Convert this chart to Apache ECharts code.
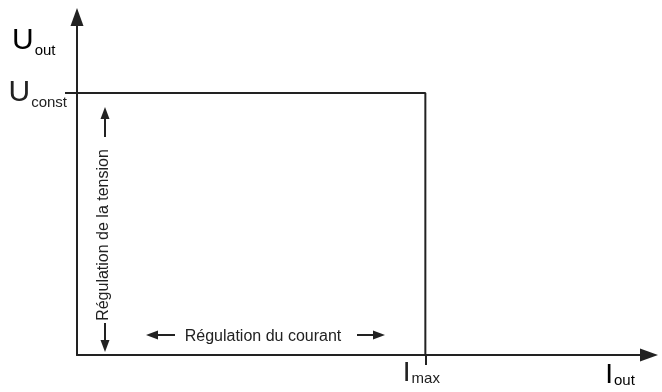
<!DOCTYPE html>
<html><head><meta charset="utf-8">
<script src="https://cdn.jsdelivr.net/npm/echarts@6/dist/echarts.min.js"></script>
<style>html,body{margin:0;padding:0;background:#fff}#c{width:662px;height:392px}</style>
</head><body><div id="c"></div>
<script>
// Output characteristic of a CV/CC power supply (arbitrary units, axes 0..100)
const currentMax = 60.9;     // I_max
const voltageConst = 77.5;   // U_const
const axisMax = 100;
const characteristic = [
  [0, voltageConst],
  [currentMax, voltageConst],
  [currentMax, 0]
];
const labelVoltageRegulation = 'Régulation de la tension';
const labelCurrentRegulation = 'Régulation du courant';

const ink = '#222';
const font = '"Liberation Sans", Arial, sans-serif';
const richU = {
  big: { fontSize: 30, fontFamily: font, color: ink, lineHeight: 32 },
  sub: { fontSize: 15, fontFamily: font, color: ink, verticalAlign: 'bottom', padding: [0, 0, -1, 1] }
};
const richI = {
  big: { fontSize: 28, fontFamily: font, color: ink, lineHeight: 30 },
  sub: { fontSize: 15, fontFamily: font, color: ink, verticalAlign: 'bottom', padding: [0, 0, 2, 1] }
};

const chart = echarts.init(document.getElementById('c'), null, { renderer: 'canvas' });

const axisLine = {
  show: true,
  symbol: ['none', 'triangle'],
  symbolSize: [13, 18],
  lineStyle: { color: ink, width: 2 }
};

chart.setOption({
  animation: false,
  backgroundColor: '#fff',
  grid: { left: 77, right: 13, top: 17, bottom: 37, containLabel: false },
  xAxis: {
    type: 'value', min: 0, max: axisMax,
    axisLine: axisLine,
    // the I_max line continues a little below the axis
    axisTick: { show: true, customValues: [currentMax], length: 10, inside: false, lineStyle: { color: ink, width: 2 } },
    splitLine: { show: false },
    axisLabel: {
      customValues: [currentMax],
      formatter: () => '{big|I}{sub|max}',
      rich: richI,
      margin: 3,
      align: 'center',
      padding: [0, 8, 0, 0]
    }
  },
  yAxis: {
    type: 'value', min: 0, max: axisMax,
    axisLine: axisLine,
    // the U_const line continues a little left of the axis
    axisTick: { show: true, customValues: [voltageConst], length: 12, inside: false, lineStyle: { color: ink, width: 2 } },
    splitLine: { show: false },
    axisLabel: {
      customValues: [voltageConst],
      formatter: () => '{big|U}{sub|const}',
      rich: richU,
      margin: 10
    }
  },
  series: [{
    type: 'line',
    data: characteristic,
    showSymbol: false,
    clip: false,
    lineStyle: { color: ink, width: 2 }
  }]
});

// Annotations placed relative to the axes
function arrow(x1, y1, x2, y2) {
  const dx = x2 - x1, dy = y2 - y1;
  const len = Math.hypot(dx, dy), ux = dx / len, uy = dy / len;
  const hl = 12, hw = 4.5;
  const bx = x2 - ux * hl, by = y2 - uy * hl;
  return [
    { type: 'line', shape: { x1: x1, y1: y1, x2: bx, y2: by }, style: { stroke: ink, lineWidth: 2 } },
    { type: 'polygon', shape: { points: [[x2, y2], [bx - uy * hw, by + ux * hw], [bx + uy * hw, by - ux * hw]] }, style: { fill: ink } }
  ];
}

const origin = chart.convertToPixel({ gridIndex: 0 }, [0, 0]);
const corner = chart.convertToPixel({ gridIndex: 0 }, [currentMax, voltageConst]);
const axisEnd = chart.convertToPixel({ gridIndex: 0 }, [axisMax, axisMax]);

const vx = origin[0] + 28;
const hy = origin[1] - 20;
const elements = [];
// voltage regulation band (vertical)
elements.push(...arrow(vx, corner[1] + 44, vx, corner[1] + 14));
elements.push(...arrow(vx, origin[1] - 32, vx, origin[1] - 3));
elements.push({
  type: 'text', x: vx - 1, y: (corner[1] + origin[1]) / 2 + 11, rotation: Math.PI / 2,
  style: { text: labelVoltageRegulation, font: '16px ' + font, fill: ink, align: 'center', verticalAlign: 'middle' }
});
// current regulation band (horizontal)
elements.push(...arrow(origin[0] + 98, hy, origin[0] + 69, hy));
elements.push(...arrow(origin[0] + 280, hy, origin[0] + 308, hy));
elements.push({
  type: 'text', x: origin[0] + 186, y: hy + 2,
  style: { text: labelCurrentRegulation, font: '16px ' + font, fill: ink, align: 'center', verticalAlign: 'middle' }
});
// axis names
elements.push({
  type: 'text', x: 12, y: axisEnd[1] + 24,
  style: { text: '{big|U}{sub|out}', rich: richU, align: 'left', verticalAlign: 'middle' }
});
elements.push({
  type: 'text', x: axisEnd[0] - 29, y: origin[1] + 20,
  style: { text: '{big|I}{sub|out}', rich: richI, align: 'center', verticalAlign: 'middle' }
});
chart.setOption({ graphic: { elements: elements } });
</script>
</body></html>
